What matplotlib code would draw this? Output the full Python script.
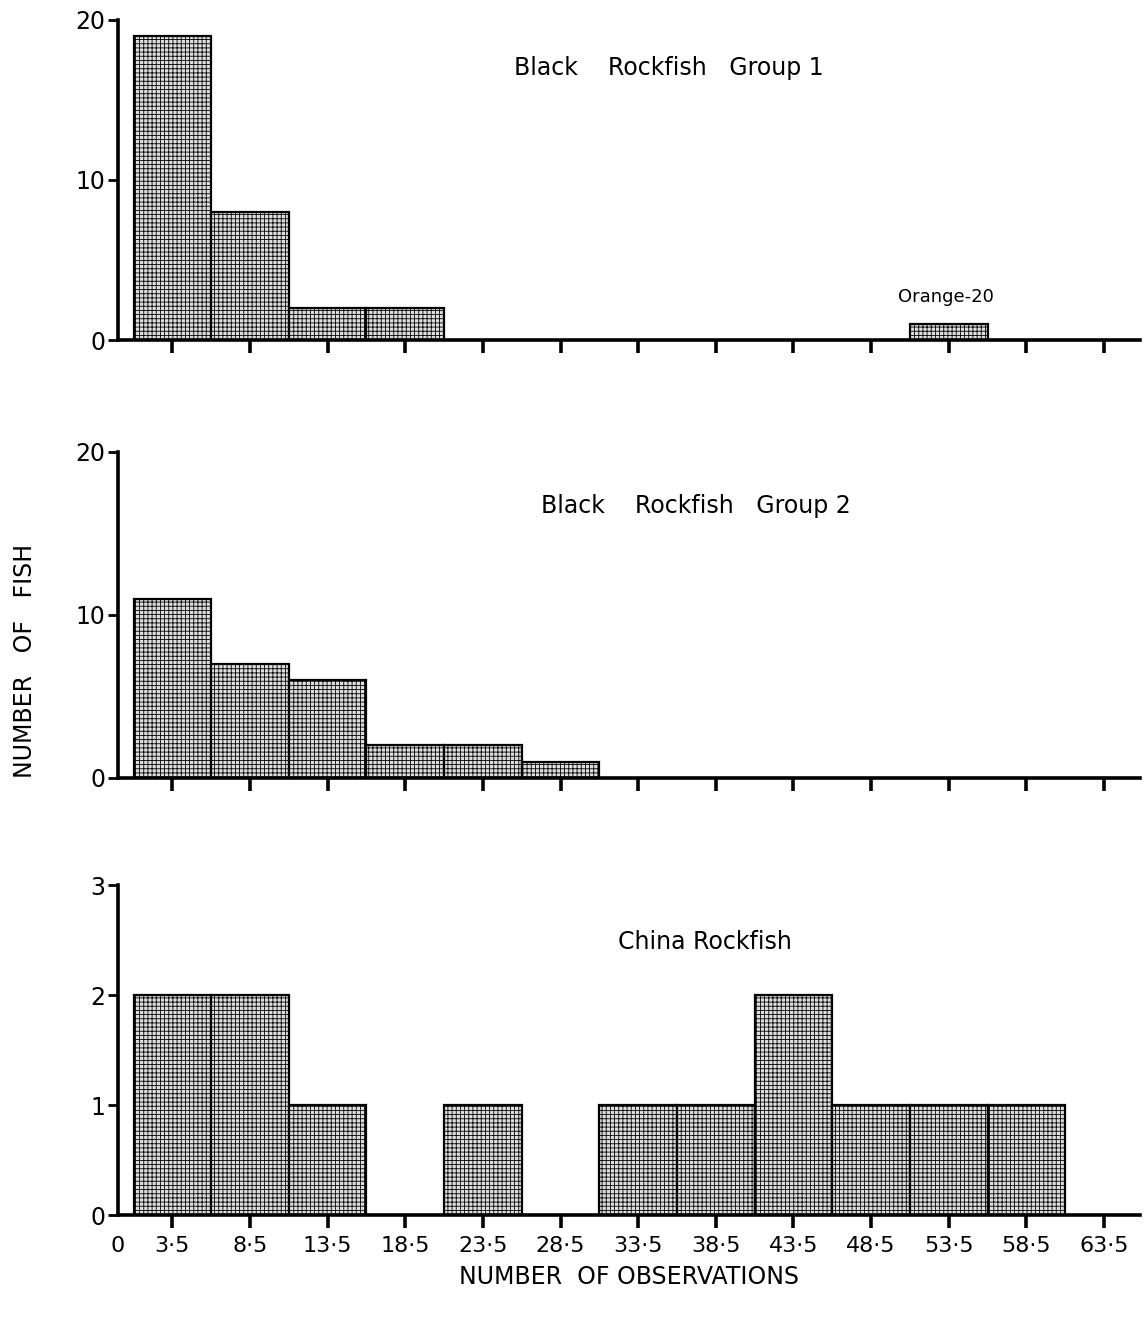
import numpy as np
import matplotlib
matplotlib.use('Agg')
import matplotlib.pyplot as plt

plt.rcParams['font.family'] = ['DejaVu Sans']
plt.rcParams['hatch.linewidth'] = 0.6
plt.rcParams['hatch.color'] = '#555555'

# bin centres (width 5) and counts
centres = [3.5, 8.5, 13.5, 18.5, 23.5, 28.5, 33.5, 38.5, 43.5, 48.5, 53.5, 58.5, 63.5]
tick_labels = ['3·5', '8·5', '13·5', '18·5', '23·5', '28·5', '33·5', '38·5',
               '43·5', '48·5', '53·5', '58·5', '63·5']

group1 = [19, 8, 2, 2, 0, 0, 0, 0, 0, 0, 0, 0, 0]
orange20_x = [53.5]
orange20_n = [1]
group2 = [11, 7, 6, 2, 2, 1, 0, 0, 0, 0, 0, 0, 0]
china = [2, 2, 1, 0, 1, 0, 1, 1, 2, 1, 1, 1, 0]

fig = plt.figure(figsize=(11.48, 13.21), dpi=100)
ax1 = fig.add_axes([0.1028, 0.7426, 0.890, 0.2423])
ax2 = fig.add_axes([0.1028, 0.4111, 0.890, 0.2468])
ax3 = fig.add_axes([0.1028, 0.0802, 0.890, 0.2498])

bar_kw = dict(width=5, facecolor='#dedede', edgecolor='black', linewidth=1.6, hatch='++++')


def style(ax, ymax, yticks, show_xlabels):
    ax.set_xlim(0, 65.8)
    ax.set_ylim(0, ymax)
    for s in ['top', 'right']:
        ax.spines[s].set_visible(False)
    ax.spines['left'].set_linewidth(2.6)
    ax.spines['bottom'].set_linewidth(2.6)
    ax.set_yticks(yticks)
    ax.tick_params(axis='y', length=7, width=2, labelsize=17, pad=2)
    ax.set_xticks(centres)
    ax.tick_params(axis='x', length=9, width=2.6, labelsize=16, pad=6)
    if show_xlabels:
        ax.set_xticks([0] + centres)
        ax.set_xticklabels(['0'] + tick_labels)
        ax.get_xticklines()[0].set_visible(False)
    else:
        ax.set_xticklabels([])


c = np.array(centres)
ax1.bar(c[np.array(group1) > 0], np.array(group1)[np.array(group1) > 0], **bar_kw)
ax1.bar(orange20_x, orange20_n, **bar_kw)
style(ax1, 20, [0, 10, 20], False)
ax1.text(35.5, 17, 'Black    Rockfish   Group 1', ha='center', va='center', fontsize=17)
ax1.text(53.3, 2.7, 'Orange-20', ha='center', va='center', fontsize=13)

g2 = np.array(group2)
ax2.bar(c[g2 > 0], g2[g2 > 0], **bar_kw)
style(ax2, 20, [0, 10, 20], False)
ax2.text(37.2, 16.7, 'Black    Rockfish   Group 2', ha='center', va='center', fontsize=17)

ch = np.array(china)
ax3.bar(c[ch > 0], ch[ch > 0], **bar_kw)
style(ax3, 3, [0, 1, 2, 3], True)
ax3.text(37.8, 2.48, 'China Rockfish', ha='center', va='center', fontsize=17)

fig.text(0.022, 0.50, 'NUMBER   OF   FISH', rotation=90, ha='center', va='center', fontsize=17)
fig.text(0.548, 0.033, 'NUMBER  OF OBSERVATIONS', ha='center', va='center', fontsize=17)

fig.savefig('out.png', dpi=100, facecolor='white')
